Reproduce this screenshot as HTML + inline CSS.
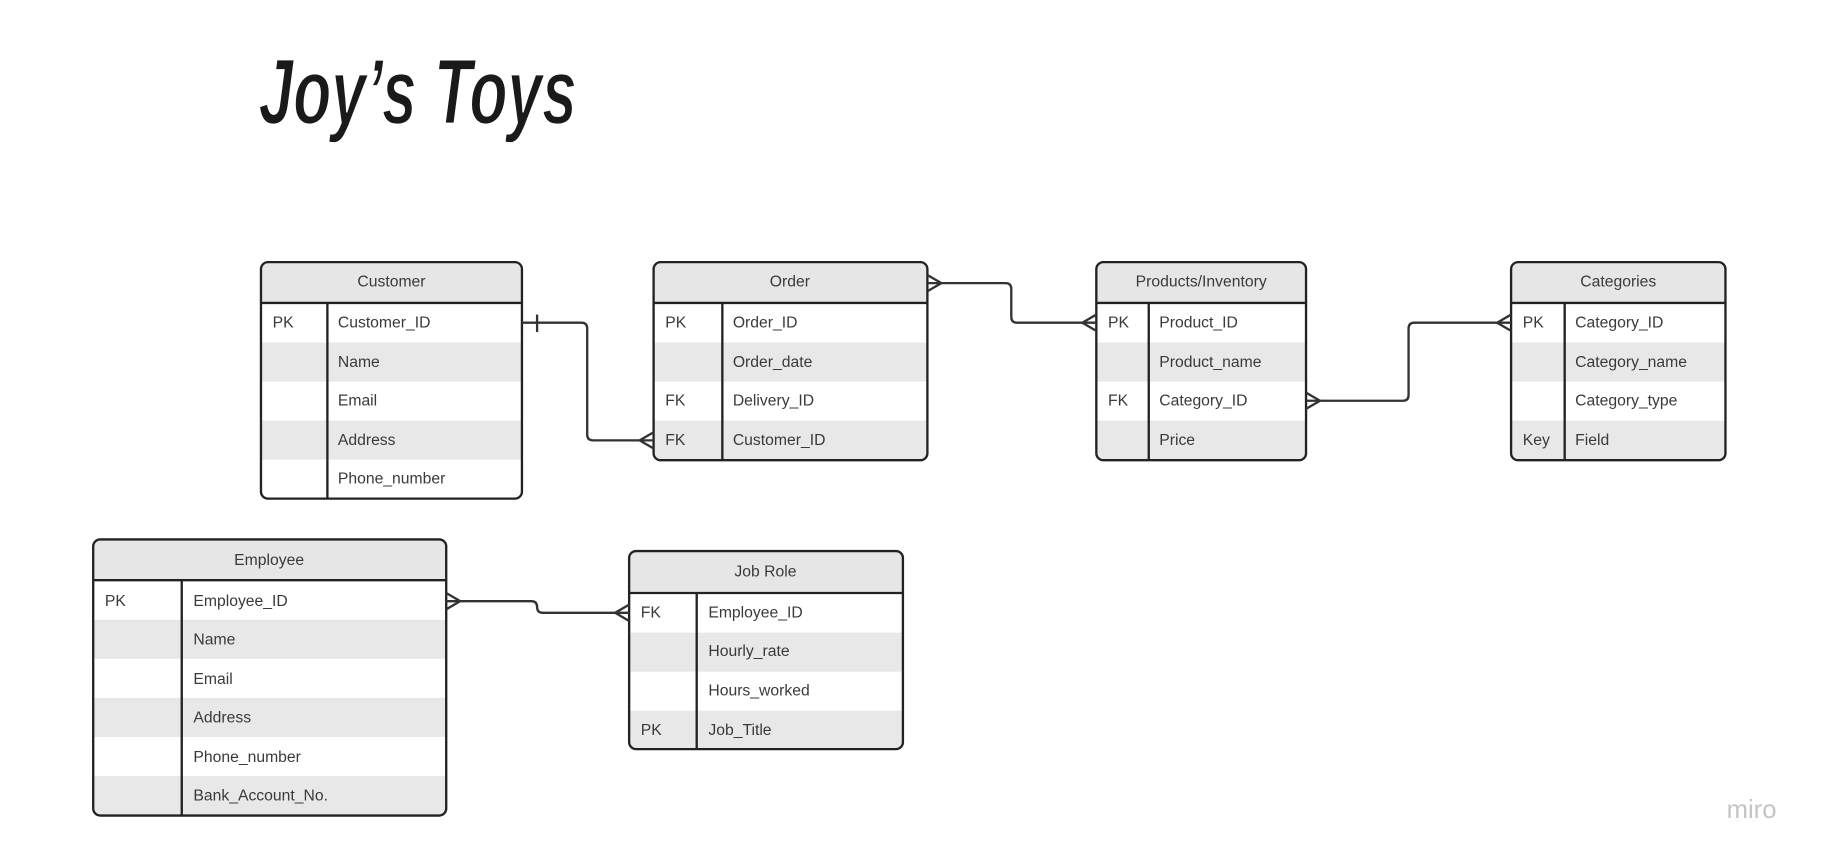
<!DOCTYPE html>
<html><head><meta charset="utf-8"><style>
html,body{margin:0;padding:0;background:#fff;width:1821px;height:857px;overflow:hidden}
svg{display:block}
text{font-family:"Liberation Sans","DejaVu Sans",sans-serif;fill:#3a3a3a;font-size:13.5px}
</style></head><body>
<svg width="1821" height="857" viewBox="0 0 1563 735.6" preserveAspectRatio="none" xmlns="http://www.w3.org/2000/svg">
<rect width="1563" height="736" fill="#fff"/>
<text x="222" y="106" textLength="273" lengthAdjust="spacingAndGlyphs" style="font-family:'Liberation Sans Narrow','Liberation Sans',sans-serif;font-style:italic;font-weight:bold;font-size:80px;fill:#1a1a1a;stroke:#fff;stroke-width:1.5px">Joy’s Toys</text>

<g id="tables" stroke="#222" stroke-width="2">
<g>
<clipPath id="c1"><rect x="224" y="225" width="224" height="203" rx="6"/></clipPath>
<g clip-path="url(#c1)" stroke="none">
<rect x="224" y="225" width="224" height="35" fill="#e6e6e6"/>
<rect x="224" y="294" width="224" height="33.5" fill="#e8e8e8"/>
<rect x="224" y="361" width="224" height="33.5" fill="#e8e8e8"/>
</g>
<rect x="224" y="225" width="224" height="203" rx="6" fill="none"/>
<line x1="224" y1="260" x2="448" y2="260"/><line x1="281" y1="260" x2="281" y2="428"/>
</g>
<g>
<clipPath id="c2"><rect x="561" y="225" width="235" height="170" rx="6"/></clipPath>
<g clip-path="url(#c2)" stroke="none">
<rect x="561" y="225" width="235" height="35" fill="#e6e6e6"/>
<rect x="561" y="294" width="235" height="33.5" fill="#e8e8e8"/>
<rect x="561" y="361" width="235" height="34" fill="#e8e8e8"/>
</g>
<rect x="561" y="225" width="235" height="170" rx="6" fill="none"/>
<line x1="561" y1="260" x2="796" y2="260"/><line x1="620" y1="260" x2="620" y2="395"/>
</g>
<g>
<clipPath id="c3"><rect x="941" y="225" width="180" height="170" rx="6"/></clipPath>
<g clip-path="url(#c3)" stroke="none">
<rect x="941" y="225" width="180" height="35" fill="#e6e6e6"/>
<rect x="941" y="294" width="180" height="33.5" fill="#e8e8e8"/>
<rect x="941" y="361" width="180" height="34" fill="#e8e8e8"/>
</g>
<rect x="941" y="225" width="180" height="170" rx="6" fill="none"/>
<line x1="941" y1="260" x2="1121" y2="260"/><line x1="986" y1="260" x2="986" y2="395"/>
</g>
<g>
<clipPath id="c4"><rect x="1297" y="225" width="184" height="170" rx="6"/></clipPath>
<g clip-path="url(#c4)" stroke="none">
<rect x="1297" y="225" width="184" height="35" fill="#e6e6e6"/>
<rect x="1297" y="294" width="184" height="33.5" fill="#e8e8e8"/>
<rect x="1297" y="361" width="184" height="34" fill="#e8e8e8"/>
</g>
<rect x="1297" y="225" width="184" height="170" rx="6" fill="none"/>
<line x1="1297" y1="260" x2="1481" y2="260"/><line x1="1343" y1="260" x2="1343" y2="395"/>
</g>
<g>
<clipPath id="c5"><rect x="80" y="463" width="303" height="237" rx="6"/></clipPath>
<g clip-path="url(#c5)" stroke="none">
<rect x="80" y="463" width="303" height="35" fill="#e6e6e6"/>
<rect x="80" y="532" width="303" height="33.5" fill="#e8e8e8"/>
<rect x="80" y="599" width="303" height="33.5" fill="#e8e8e8"/>
<rect x="80" y="666" width="303" height="34" fill="#e8e8e8"/>
</g>
<rect x="80" y="463" width="303" height="237" rx="6" fill="none"/>
<line x1="80" y1="498" x2="383" y2="498"/><line x1="156" y1="498" x2="156" y2="700"/>
</g>
<g>
<clipPath id="c6"><rect x="540" y="473" width="235" height="170" rx="6"/></clipPath>
<g clip-path="url(#c6)" stroke="none">
<rect x="540" y="473" width="235" height="36" fill="#e6e6e6"/>
<rect x="540" y="543" width="235" height="33.5" fill="#e8e8e8"/>
<rect x="540" y="610" width="235" height="33" fill="#e8e8e8"/>
</g>
<rect x="540" y="473" width="235" height="170" rx="6" fill="none"/>
<line x1="540" y1="509" x2="775" y2="509"/><line x1="598" y1="509" x2="598" y2="643"/>
</g>
</g>

<g stroke="#333" stroke-width="2" fill="none">
<path d="M448 277 H499 Q504 277 504 282 V373 Q504 378 509 378 H561"/>
<line x1="461" y1="270" x2="461" y2="285"/>
<path d="M561 371 L549 378 L561 385"/>
<path d="M796 243 H863 Q868 243 868 248 V272 Q868 277 873 277 H941"/>
<path d="M796 236 L808 243 L796 250"/>
<path d="M941 270 L929 277 L941 284"/>
<path d="M1121 344 H1204 Q1209 344 1209 339 V282 Q1209 277 1214 277 H1297"/>
<path d="M1121 337 L1133 344 L1121 351"/>
<path d="M1297 270 L1285 277 L1297 284"/>
<path d="M383 516 H456 Q461 516 461 521 Q461 526 466 526 H540"/>
<path d="M383 509 L395 516 L383 523"/>
<path d="M540 519 L528 526 L540 533"/>
</g>

<g>
<text x="336" y="246" text-anchor="middle">Customer</text>
<text x="234" y="281">PK</text><text x="290" y="281">Customer_ID</text>
<text x="290" y="315">Name</text>
<text x="290" y="348">Email</text>
<text x="290" y="382">Address</text>
<text x="290" y="415">Phone_number</text>

<text x="678" y="246" text-anchor="middle">Order</text>
<text x="571" y="281">PK</text><text x="629" y="281">Order_ID</text>
<text x="629" y="315">Order_date</text>
<text x="571" y="348">FK</text><text x="629" y="348">Delivery_ID</text>
<text x="571" y="382">FK</text><text x="629" y="382">Customer_ID</text>

<text x="1031" y="246" text-anchor="middle">Products/Inventory</text>
<text x="951" y="281">PK</text><text x="995" y="281">Product_ID</text>
<text x="995" y="315">Product_name</text>
<text x="951" y="348">FK</text><text x="995" y="348">Category_ID</text>
<text x="995" y="382">Price</text>

<text x="1389" y="246" text-anchor="middle">Categories</text>
<text x="1307" y="281">PK</text><text x="1352" y="281">Category_ID</text>
<text x="1352" y="315">Category_name</text>
<text x="1352" y="348">Category_type</text>
<text x="1307" y="382">Key</text><text x="1352" y="382">Field</text>

<text x="231" y="485" text-anchor="middle">Employee</text>
<text x="90" y="520">PK</text><text x="166" y="520">Employee_ID</text>
<text x="166" y="553">Name</text>
<text x="166" y="587">Email</text>
<text x="166" y="620">Address</text>
<text x="166" y="654">Phone_number</text>
<text x="166" y="687">Bank_Account_No.</text>

<text x="657" y="495" text-anchor="middle">Job Role</text>
<text x="550" y="530">FK</text><text x="608" y="530">Employee_ID</text>
<text x="608" y="563">Hourly_rate</text>
<text x="608" y="597">Hours_worked</text>
<text x="550" y="631">PK</text><text x="608" y="631">Job_Title</text>

<text x="1482" y="702" style="font-size:22px;fill:#c4c4c8">miro</text>
</g>
</svg>
</body></html>
